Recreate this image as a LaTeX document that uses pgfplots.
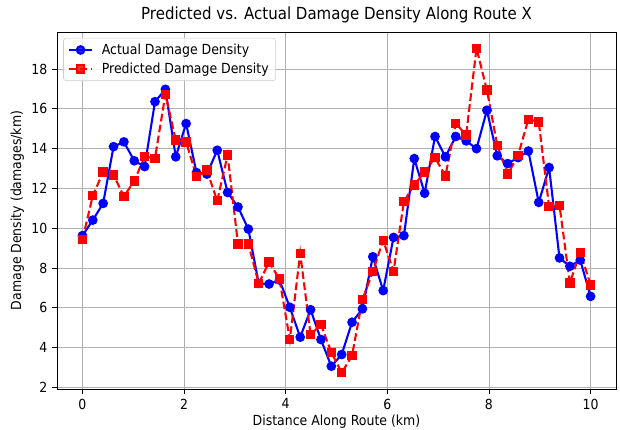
\documentclass[border=0pt]{standalone}
\usepackage{fontspec}
\setmainfont{DejaVu Sans}[FakeStretch=0.9]
\usepackage{pgfplots}
\pgfplotsset{compat=1.18}
\usepackage{pgfplotstable}
\pgfplotstableread{
x actual predicted
0 9.63 9.42
0.2041 10.41 11.63
0.4082 11.25 12.83
0.6122 14.10 12.68
0.8163 14.34 11.60
1.0204 13.39 12.38
1.2245 13.10 13.60
1.4286 16.36 13.52
1.6327 16.98 16.73
1.8367 13.59 14.44
2.0408 15.26 14.34
2.2449 12.80 12.60
2.4490 12.72 12.92
2.6531 13.92 11.38
2.8571 11.80 13.68
3.0612 11.07 9.21
3.2653 9.96 9.21
3.4694 7.23 7.23
3.6735 7.20 8.30
3.8776 7.40 7.45
4.0816 6.03 4.41
4.2857 4.53 8.74
4.4898 5.91 4.66
4.6939 4.41 5.16
4.8980 3.07 3.77
5.1020 3.66 2.74
5.3061 5.28 3.61
5.5102 5.95 6.42
5.7143 8.57 7.82
5.9184 6.87 9.40
6.1224 9.54 7.83
6.3265 9.63 11.35
6.5306 13.50 12.18
6.7347 11.76 12.83
6.9388 14.61 13.55
7.1429 13.59 12.63
7.3469 14.61 15.26
7.5510 14.39 14.69
7.7551 14.00 19.04
7.9592 15.93 16.95
8.1633 13.64 14.17
8.3673 13.25 12.72
8.5714 13.55 13.64
8.7755 13.88 15.48
8.9796 11.30 15.34
9.1837 13.05 11.08
9.3878 8.51 11.16
9.5918 8.09 7.25
9.7959 8.40 8.79
10 6.58 7.15
}\datatable
\begin{document}
\begin{tikzpicture}
\begin{axis}[
  scale only axis,
  width=402.5pt, height=257pt,
  xmin=-0.5, xmax=10.5,
  ymin=1.93, ymax=19.86,
  xtick={0,2,4,6,8,10},
  ytick={2,4,6,8,10,12,14,16,18},
  tick align=outside,
  tick pos=left,
  major tick length=3.5pt,
  tick style={black, line width=0.6pt},
  /pgf/number format/assume math mode=true,
  tick label style={font=\fontsize{10}{12}\selectfont},
  grid=major,
  major grid style={line width=0.6pt, color=black!31},
  axis line style={line width=0.6pt},
  title={Predicted vs. Actual Damage Density Along Route X},
  title style={font=\fontsize{12}{14}\selectfont, at={(axis description cs:0.5,1)}, anchor=center, yshift=6.2pt},
  xlabel={Distance Along Route (km)},
  ylabel={Damage Density (damages/km)},
  xlabel style={font=\fontsize{10}{12}\selectfont, at={(axis description cs:0.5,0)}, anchor=center, yshift=-23.8pt},
  ylabel style={font=\fontsize{10}{12}\selectfont, at={(axis description cs:0,0.5)}, anchor=center, yshift=28.5pt},
  legend style={font=\fontsize{10}{12}\selectfont, draw=black!20, rounded corners=2pt, fill=white, fill opacity=0.8, text opacity=1, at={(axis description cs:0,1)}, xshift=4.5pt, yshift=-4.2pt, anchor=north west, row sep=0.5pt, /tikz/every odd column/.append style={column sep=4pt}},
  legend cell align=left,
]
\addplot[color={rgb,255:red,0;green,0;blue,255}, line width=1.5pt, mark=*, mark size=2.7pt, mark options={solid}] table[x=x, y=actual] {\datatable};
\addlegendentry{Actual Damage Density}
\addplot[color={rgb,255:red,255;green,0;blue,0}, line width=1.5pt, dash pattern=on 5.55pt off 2.4pt, mark=square*, mark size=2.6pt, mark options={solid}] table[x=x, y=predicted] {\datatable};
\addlegendentry{Predicted Damage Density}
\end{axis}
\pgfresetboundingbox
\path (current axis.south west) ++(-41.04pt,-29.52pt) rectangle ([xshift=2.88pt,yshift=23.04pt]current axis.north east);
\end{tikzpicture}
\end{document}
